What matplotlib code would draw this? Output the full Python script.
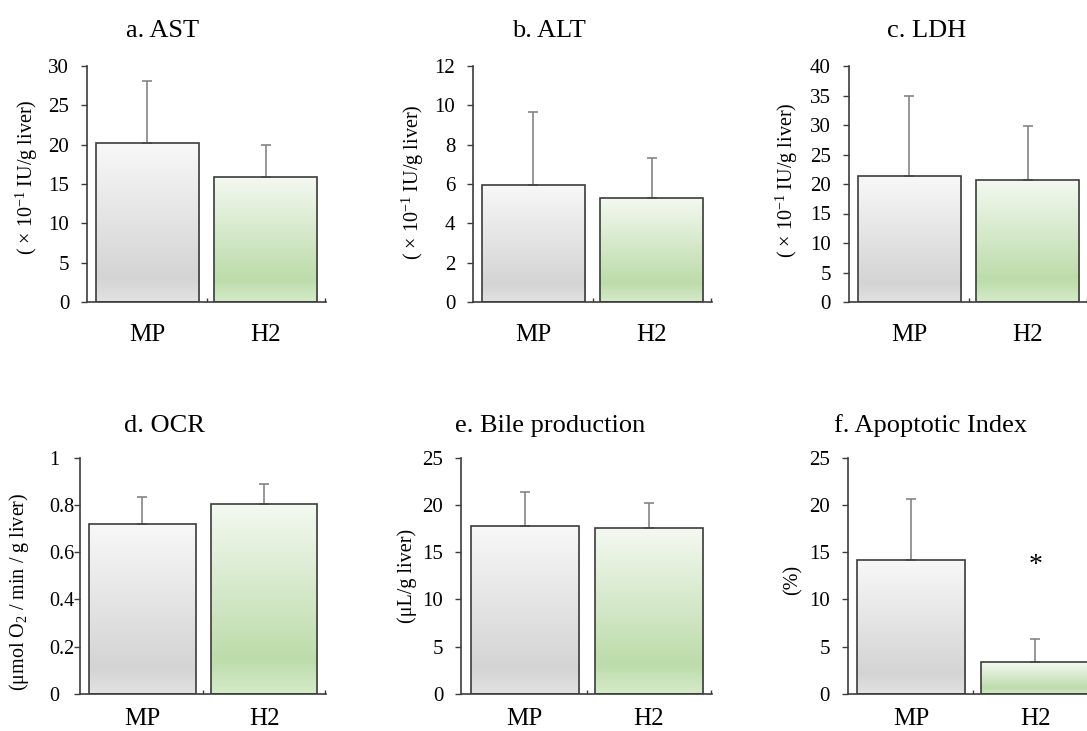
# Imported libraries/functions.
import numpy as np
from matplotlib import pyplot as plt
from matplotlib.colors import LinearSegmentedColormap


# Group names shared by every panel.
categories = ['MP', 'H2']

# Mean and (upper) error of each panel.
ast_mean = [20.2, 15.9]
ast_err = [7.9, 4.1]

alt_mean = [5.95, 5.30]
alt_err = [3.70, 2.00]

ldh_mean = [21.3, 20.7]
ldh_err = [13.7, 9.1]

ocr_mean = [0.718, 0.805]
ocr_err = [0.117, 0.082]

bile_mean = [17.8, 17.6]
bile_err = [3.60, 2.65]

apop_mean = [14.2, 3.35]
apop_err = [6.4, 2.5]

# Titles, axis labels and axis ranges of the panels.
titles = ['a. AST', 'b. ALT', 'c. LDH', 'd. OCR', 'e. Bile production', 'f. Apoptotic Index']
ylabels = ['( \u00d7 10$^{-1}$ IU/g liver)', '( \u00d7 10$^{-1}$ IU/g liver)',
           '( \u00d7 10$^{-1}$ IU/g liver)', '(\u03bcmol O$_{2}$ / min / g liver)',
           '(\u03bcL/g liver)', '(%)']
ymax = [30, 12, 40, 1, 25, 25]
ystep = [5, 2, 5, 0.2, 5, 5]


# Figure size in pixels.
W, H = 1087, 731

plt.rcParams['font.family'] = ['Liberation Serif', 'DejaVu Serif']
plt.rcParams['mathtext.fontset'] = 'custom'
plt.rcParams['mathtext.rm'] = 'Liberation Serif'
plt.rcParams['mathtext.it'] = 'Liberation Serif:italic'

# Gradient fills, from the top of a bar (0) to its bottom (1).
grayMap = LinearSegmentedColormap.from_list(
    'grayfill', [(0.0, '#f8f8f8'), (0.85, '#d4d4d4'), (1.0, '#e2e2e2')])
greenMap = LinearSegmentedColormap.from_list(
    'greenfill', [(0.0, '#f4f9f1'), (0.82, '#bcdcaa'), (1.0, '#d5ebc9')])


# Function that draws one bar panel with gradient-filled bars.
def DrawPanel(ax, mean, err, top, step, leftLabels=False):

    x = np.arange(len(categories))
    width = 0.873

    # Bars: outline only, the gradient is painted inside afterwards.
    bars = ax.bar(x, mean, width=width, facecolor='none',
                  edgecolor='#3c3c3c', linewidth=1.2, zorder=4)

    # Paint each bar with its own vertical gradient, clipped to the bar.
    t = np.linspace(0, 1, 256)
    for bar, cmap in zip(bars, [grayMap, greenMap]):
        grad = cmap(t)[:, None, :3]
        x0 = bar.get_x()
        h = bar.get_height()
        im = ax.imshow(grad, extent=[x0, x0 + width, 0, h], origin='upper',
                       aspect='auto', interpolation='bilinear', zorder=2)
        im.set_clip_path(bar)

    # Upper error bars only.
    ax.errorbar(x, mean, yerr=[np.zeros(len(mean)), err], fmt='none',
                ecolor='#858585', elinewidth=1.2, capsize=3.5, capthick=1.2,
                zorder=3)

    ax.set_xlim(-0.51, 1.51)
    ax.set_ylim(0, top)
    ax.set_yticks(np.arange(0, top + step / 2, step))
    ax.yaxis.set_major_formatter(plt.FuncFormatter(lambda v, p: '%g' % round(v, 3)))

    ax.set_xticks(x)
    ax.set_xticklabels(categories, fontsize=18)
    ax.set_xticks([0.5, 1.5], minor=True)
    ax.tick_params(axis='x', which='major', length=0)
    ax.tick_params(axis='x', which='minor', direction='in', length=3,
                   width=1, color='#3c3c3c')

    ax.tick_params(axis='y', direction='out', length=4.5, width=1,
                   color='#3c3c3c', labelsize=15, pad=8.5)
    if leftLabels:
        # Panel d has its tick labels aligned on the left.
        ax.tick_params(axis='y', pad=18, labelsize=14.5)
        for lab in ax.get_yticklabels():
            lab.set_ha('left')

    for side in ['top', 'right']:
        ax.spines[side].set_visible(False)
    for side in ['left', 'bottom']:
        ax.spines[side].set_color('#3c3c3c')
        ax.spines[side].set_linewidth(1.2)


fig = plt.figure(figsize=(W / 100, H / 100), dpi=100)

# Panel boxes in pixels: left, width, bottom, top.
boxes = [(87.3, 238.4, 302, 66), (473.3, 238.4, 302, 66), (849.0, 239.0, 302, 66),
         (80.4, 245.8, 694, 457.7), (461.4, 251.0, 694, 457.7), (847.8, 251.0, 694, 457.7)]

# Title and axis label anchors in pixels.
titlePos = [(163, 37), (549, 37), (927, 37), (164, 432), (550, 432), (931, 432)]
ylabelPos = [(27, 177), (413, 182), (787, 180), (19, 592), (407, 576), (793, 580)]
xpads = [16, 16, 16, 10, 10, 10]

means = [ast_mean, alt_mean, ldh_mean, ocr_mean, bile_mean, apop_mean]
errs = [ast_err, alt_err, ldh_err, ocr_err, bile_err, apop_err]

axes = []
for i in range(6):
    l, w, b, t = boxes[i]
    ax = fig.add_axes([l / W, 1 - b / H, w / W, (b - t) / H])
    DrawPanel(ax, means[i], errs[i], ymax[i], ystep[i], leftLabels=(i == 3))
    ax.tick_params(axis='x', which='major', pad=xpads[i])
    axes.append(ax)

    fig.text(titlePos[i][0] / W, 1 - titlePos[i][1] / H, titles[i],
             fontsize=19, ha='center', va='baseline')
    fig.text(ylabelPos[i][0] / W, 1 - ylabelPos[i][1] / H, ylabels[i],
             fontsize=14.5, ha='center', va='center', rotation=90)

# Significance mark above the H2 bar of panel f.
axes[5].text(1, 13.6, '*', fontsize=20, ha='center', va='center', zorder=5)

fig.savefig('out.png', dpi=100)
